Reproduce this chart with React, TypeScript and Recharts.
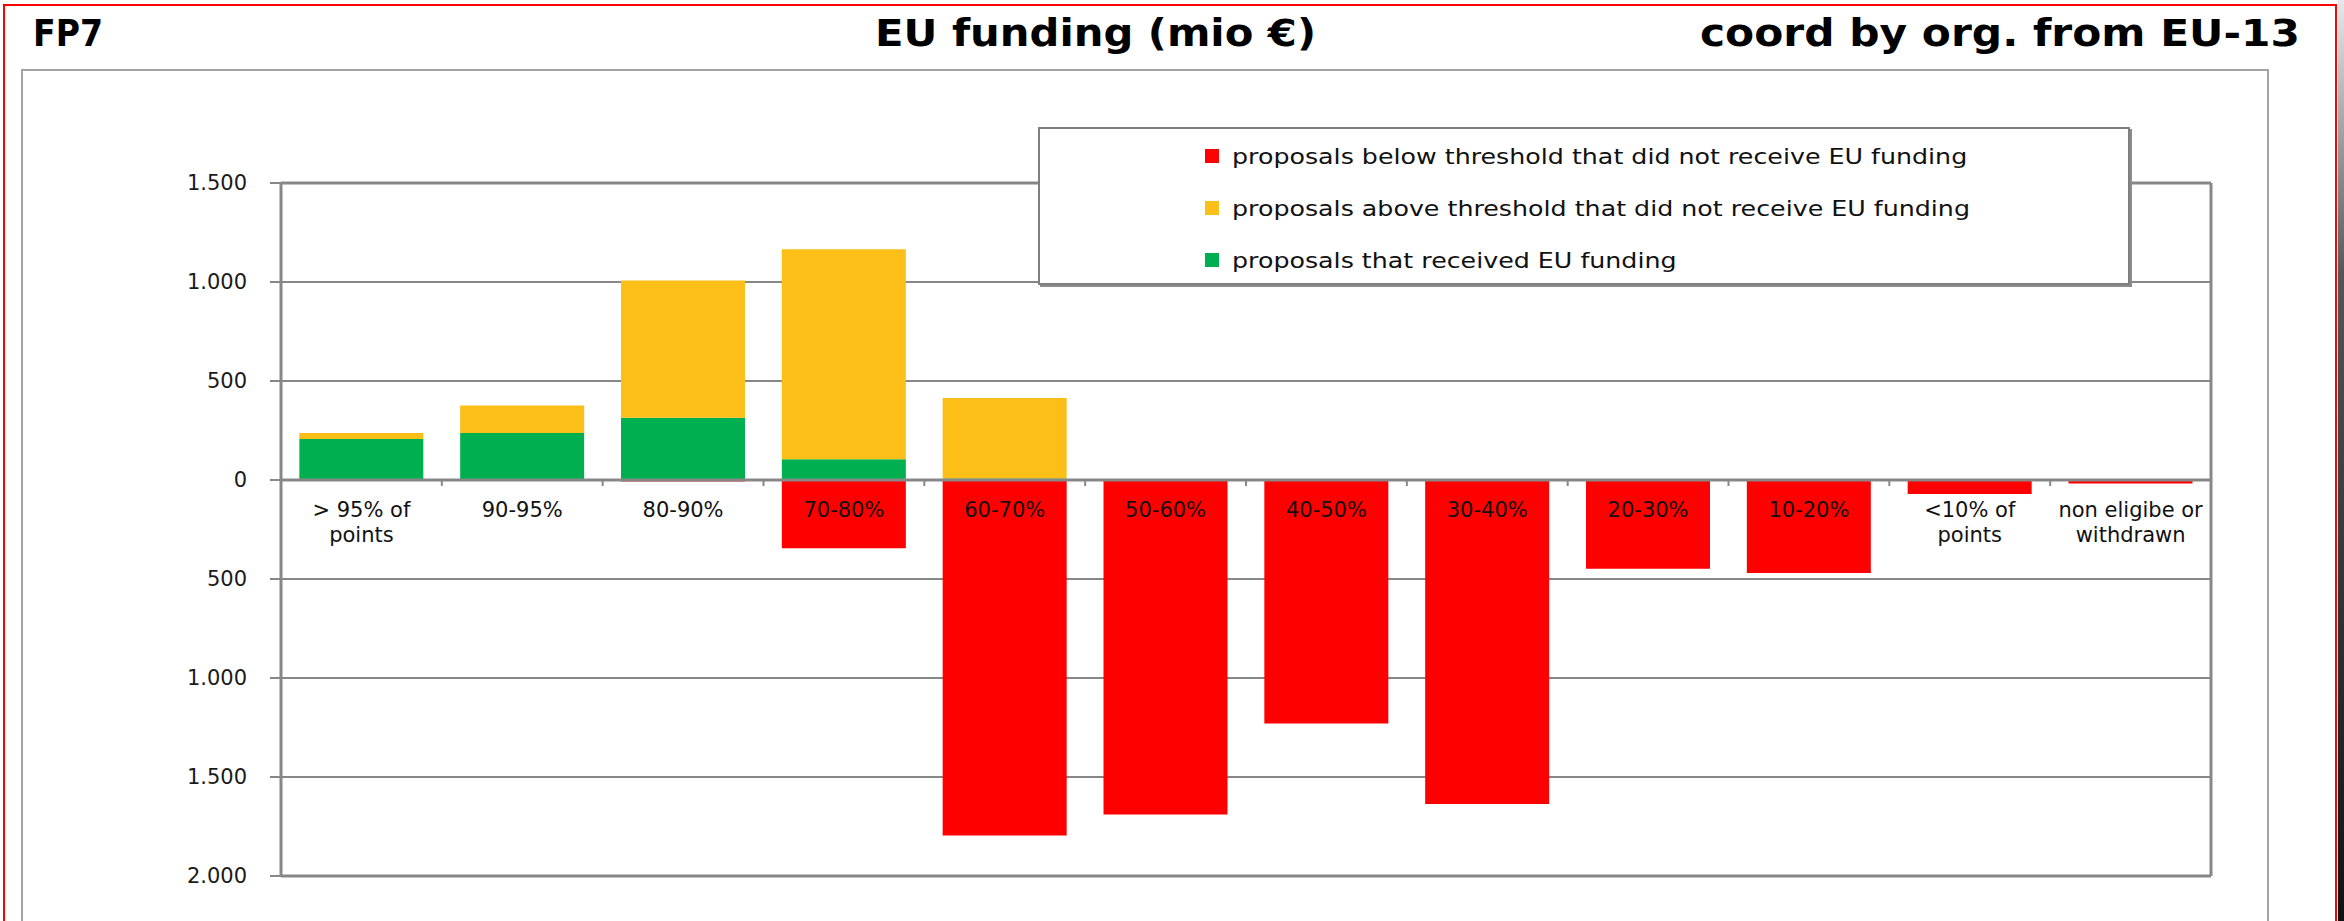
import React from 'react';
import { BarChart, Bar, XAxis, YAxis, CartesianGrid, ReferenceLine, Legend } from 'recharts';

// score bands (x categories) and how the tick text wraps
const CATEGORIES = [
  '> 95% of points', '90-95%', '80-90%', '70-80%', '60-70%', '50-60%',
  '40-50%', '30-40%', '20-30%', '10-20%', '<10% of points', 'non eligibe or withdrawn',
];
const TICK_LINES = [
  ['> 95% of', 'points'], ['90-95%'], ['80-90%'], ['70-80%'], ['60-70%'], ['50-60%'],
  ['40-50%'], ['30-40%'], ['20-30%'], ['10-20%'], ['<10% of', 'points'], ['non eligibe or', 'withdrawn'],
];

// mio €
const FUNDED = [207, 237, 314, 105, 8, 0, 0, 0, 0, 0, 0, 0];
const ABOVE = [30, 139, 694, 1061, 406, 0, 0, 0, 0, 0, 0, 0];
const BELOW = [0, 0, -8, -345, -1796, -1690, -1230, -1636, -448, -470, -71, -18];

const Y_TICKS = [1500, 1000, 500, 0, -500, -1000, -1500, -2000];

const NAME_FUNDED = 'proposals that received EU funding';
const NAME_ABOVE = 'proposals above threshold that did not receive EU funding';
const NAME_BELOW = 'proposals below threshold that did not receive EU funding';
const LEGEND_ORDER = ['below', 'above', 'funded'];

const W = 2344;
const H = 921;
const PLOT_LEFT = 281;
const PLOT_RIGHT = 2211;
const PLOT_TOP = 183;
const PLOT_BOTTOM = 876;
const Y_MAX = 1500;
const Y_MIN = -2000;
const ZERO_Y = PLOT_TOP + ((PLOT_BOTTOM - PLOT_TOP) * Y_MAX) / (Y_MAX - Y_MIN);
const BAND = (PLOT_RIGHT - PLOT_LEFT) / CATEGORIES.length;

const GRID = '#878787';
const FONT = '"DejaVu Sans", Verdana, sans-serif';

const data = CATEGORIES.map((cat, i) => ({
  cat,
  funded: FUNDED[i],
  above: ABOVE[i],
  below: BELOW[i],
}));

const fmtY = (v: number) => {
  const a = Math.abs(v);
  return a >= 1000 ? `${Math.floor(a / 1000)}.${String(a % 1000).padStart(3, '0')}` : String(a);
};

// x labels sit under the zero line, not at the bottom of the plot
const CategoryTick = (props: any) => {
  const { x, index } = props;
  const lines = TICK_LINES[index] || [];
  return (
    <g>
      {index < CATEGORIES.length - 1 && (
        <line x1={x + BAND / 2} x2={x + BAND / 2} y1={ZERO_Y} y2={ZERO_Y + 6} stroke={GRID} strokeWidth={2} />
      )}
      <text x={x} y={ZERO_Y + 37} textAnchor="middle" fontFamily={FONT} fontSize={21} fill="#111">
        {lines.map((l, i) => (
          <tspan key={i} x={x} dy={i === 0 ? 0 : 25}>{l}</tspan>
        ))}
      </text>
    </g>
  );
};

const LegendBox = ({ payload }: any) => {
  const items = [...(payload || [])].sort(
    (a: any, b: any) => LEGEND_ORDER.indexOf(a.dataKey) - LEGEND_ORDER.indexOf(b.dataKey)
  );
  return (
    <div
      style={{
        width: 1092, height: 158, boxSizing: 'border-box', background: '#fff',
        border: '2px solid #7f7f7f', boxShadow: '2px 2px 0 #8c8c8c', position: 'relative',
      }}
    >
      {items.map((it: any, i: number) => (
        <div
          key={it.value}
          style={{ position: 'absolute', left: 165, top: 14 + i * 52, height: 26, display: 'flex', alignItems: 'center', whiteSpace: 'nowrap' }}
        >
          <span style={{ display: 'inline-block', width: 14, height: 14, background: it.color, marginRight: 13 }} />
          <span
            style={{
              fontFamily: FONT, fontSize: 22, color: '#111', display: 'inline-block',
              transform: 'scaleX(1.15)', transformOrigin: 'left center',
            }}
          >
            {it.value}
          </span>
        </div>
      ))}
    </div>
  );
};

export default function App() {
  return (
    <div style={{ position: 'absolute', left: 0, top: 0, width: W, height: H, background: '#fff', overflow: 'hidden' }}>
      <svg width={W} height={H} style={{ position: 'absolute', left: 0, top: 0 }}>
        <defs>
          <linearGradient id="edge" x1="0" y1="0" x2="0" y2="1">
            <stop offset="0" stopColor="#e8e8e8" />
            <stop offset="0.3" stopColor="#555" />
            <stop offset="1" stopColor="#111" />
          </linearGradient>
        </defs>
        <rect x={2338} y={0} width={6} height={H} fill="url(#edge)" />
        <rect x={4} y={5} width={2332} height={H + 20} fill="none" stroke="#ff0000" strokeWidth={2} />
        <rect x={22} y={70} width={2246} height={H} fill="none" stroke="#a3a3a3" strokeWidth={2} />
        <g fontFamily={FONT} fontWeight="bold" fontSize={37} fill="#000">
          <text x={33} y={46} textLength={70} lengthAdjust="spacingAndGlyphs">FP7</text>
          <text x={875} y={46} textLength={441} lengthAdjust="spacingAndGlyphs">EU funding (mio €)</text>
          <text x={1700} y={46} textLength={600} lengthAdjust="spacingAndGlyphs">coord by org. from EU-13</text>
        </g>
      </svg>
      <div style={{ position: 'absolute', left: 0, top: 0 }}>
        <BarChart
          width={W}
          height={H}
          data={data}
          stackOffset="sign"
          barCategoryGap="11.4%"
          margin={{ top: PLOT_TOP, right: W - PLOT_RIGHT - 1, left: 0, bottom: H - PLOT_BOTTOM - 30 }}
        >
          <CartesianGrid vertical={false} stroke={GRID} strokeWidth={2} />
          <YAxis
            type="number"
            domain={[Y_MIN, Y_MAX]}
            ticks={Y_TICKS}
            interval={0}
            width={PLOT_LEFT}
            tickFormatter={fmtY}
            tickSize={11}
            tickMargin={23}
            axisLine={{ stroke: GRID, strokeWidth: 3 }}
            tickLine={{ stroke: GRID, strokeWidth: 2 }}
            tick={{ fontFamily: FONT, fontSize: 21, fill: '#1a1a1a' }}
          />
          <YAxis
            yAxisId="right"
            orientation="right"
            type="number"
            domain={[Y_MIN, Y_MAX]}
            width={1}
            tick={false}
            tickLine={false}
            axisLine={{ stroke: GRID, strokeWidth: 3 }}
          />
          <Bar dataKey="funded" name={NAME_FUNDED} stackId="a" fill="#00b050" isAnimationActive={false} />
          <Bar dataKey="above" name={NAME_ABOVE} stackId="a" fill="#fcbf17" isAnimationActive={false} />
          <Bar dataKey="below" name={NAME_BELOW} stackId="a" fill="#ff0000" isAnimationActive={false} />
          <ReferenceLine y={Y_MAX} stroke={GRID} strokeWidth={3} />
          <ReferenceLine y={Y_MIN} stroke={GRID} strokeWidth={3} />
          <ReferenceLine y={0} stroke={GRID} strokeWidth={3} />
          <XAxis
            dataKey="cat"
            height={30}
            interval={0}
            axisLine={false}
            tickLine={false}
            tick={(p: any) => <CategoryTick {...p} />}
          />
          <Legend
            layout="vertical"
            align="center"
            verticalAlign="middle"
            content={(p: any) => <LegendBox {...p} />}
            wrapperStyle={{ left: 1038, top: 127, width: 1092, height: 158 }}
          />
        </BarChart>
      </div>
    </div>
  );
}
